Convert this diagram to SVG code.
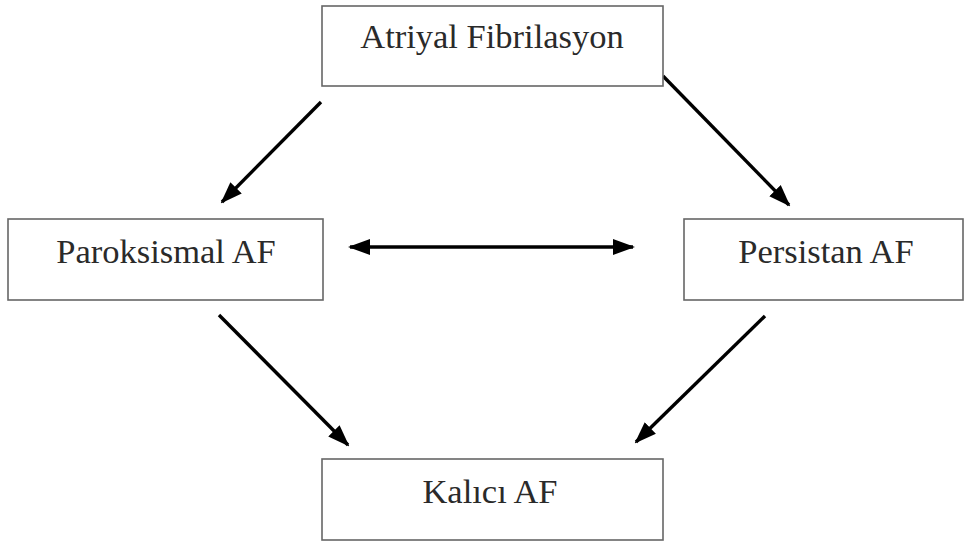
<svg xmlns="http://www.w3.org/2000/svg" width="965" height="545" viewBox="0 0 965 545">
<style>
.box{fill:#fff;stroke:#666;stroke-width:1.6}
.lbl{font-family:"Liberation Serif","Times New Roman",serif;font-size:34.5px;fill:#2a2a2a;text-anchor:middle}
.arr{stroke:#000;stroke-width:3.4;fill:none;marker-end:url(#ah)}
</style>
<defs>
<marker id="ah" markerUnits="userSpaceOnUse" markerWidth="22" markerHeight="22" viewBox="0 0 22 22" refX="20" refY="11" orient="auto">
<path d="M0,3 L22,11 L0,19 Z" fill="#000"/>
</marker>
<marker id="ahs" markerUnits="userSpaceOnUse" markerWidth="22" markerHeight="22" viewBox="0 0 22 22" refX="2" refY="11" orient="auto">
<path d="M22,3 L0,11 L22,19 Z" fill="#000"/>
</marker>
</defs>
<rect width="965" height="545" fill="#fff"/>
<g id="connectors">
<line class="arr" x1="321" y1="102" x2="222" y2="202"/>
<line class="arr" x1="663" y1="76" x2="789" y2="205"/>
<line class="arr" x1="219" y1="315" x2="348" y2="445"/>
<line class="arr" x1="765" y1="316" x2="636" y2="442"/>
<line class="arr" x1="350" y1="247" x2="633" y2="247" marker-start="url(#ahs)"/>
</g>
<g id="node-atriyal">
<rect class="box" x="322" y="6" width="341" height="80"/>
<text class="lbl" x="492" y="48">Atriyal Fibrilasyon</text>
</g>
<g id="node-paroksismal">
<rect class="box" x="8" y="219" width="315" height="81"/>
<text class="lbl" x="166" y="263">Paroksismal AF</text>
</g>
<g id="node-persistan">
<rect class="box" x="684" y="219" width="279" height="81"/>
<text class="lbl" x="826" y="263">Persistan AF</text>
</g>
<g id="node-kalici">
<rect class="box" x="322" y="459" width="341" height="81"/>
<text class="lbl" x="490" y="503">Kalıcı AF</text>
</g>
</svg>
